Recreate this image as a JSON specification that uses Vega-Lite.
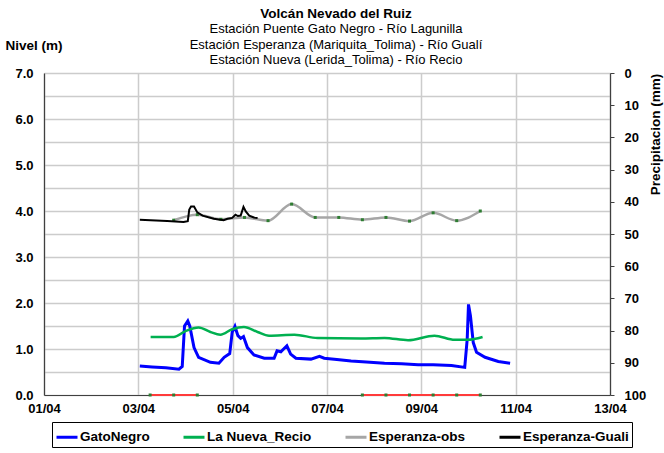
{
  "$schema": "https://vega.github.io/schema/vega-lite/v6.json",
  "width": 566,
  "height": 322,
  "autosize": {"type": "none"},
  "padding": {"left": 44, "top": 73, "right": 54, "bottom": 58},
  "background": "white",
  "config": {
    "font": "Liberation Sans",
    "view": {"stroke": null},
    "axis": {"labelFont": "Liberation Sans", "titleFont": "Liberation Sans", "labelColor": "#000000", "titleColor": "#000000"}
  },
  "title": {
    "text": "Volcán Nevado del Ruiz",
    "subtitle": ["Estación Puente Gato Negro - Río Lagunilla", "Estación Esperanza (Mariquita_Tolima) - Río Gualí", "Estación Nueva (Lerida_Tolima) - Río Recio"],
    "anchor": "middle",
    "dx": 9,
    "offset": -29,
    "font": "Liberation Sans",
    "fontSize": 13.5,
    "fontWeight": "bold",
    "color": "#000000",
    "subtitleFont": "Liberation Sans",
    "subtitleFontSize": 13,
    "subtitleColor": "#000000",
    "subtitlePadding": 3,
    "subtitleLineHeight": 15.5
  },
  "datasets": {
    "niveles": [
      {"serie": "GatoNegro", "fecha": "2023-04-03T00:45", "nivel": 0.63},
      {"serie": "GatoNegro", "fecha": "2023-04-03T07:00", "nivel": 0.61},
      {"serie": "GatoNegro", "fecha": "2023-04-03T14:00", "nivel": 0.59},
      {"serie": "GatoNegro", "fecha": "2023-04-03T20:40", "nivel": 0.56},
      {"serie": "GatoNegro", "fecha": "2023-04-03T22:20", "nivel": 0.62},
      {"serie": "GatoNegro", "fecha": "2023-04-03T23:30", "nivel": 1.50},
      {"serie": "GatoNegro", "fecha": "2023-04-04T01:10", "nivel": 1.61},
      {"serie": "GatoNegro", "fecha": "2023-04-04T02:10", "nivel": 1.50},
      {"serie": "GatoNegro", "fecha": "2023-04-04T04:20", "nivel": 1.03},
      {"serie": "GatoNegro", "fecha": "2023-04-04T06:40", "nivel": 0.82},
      {"serie": "GatoNegro", "fecha": "2023-04-04T12:40", "nivel": 0.71},
      {"serie": "GatoNegro", "fecha": "2023-04-04T17:00", "nivel": 0.69},
      {"serie": "GatoNegro", "fecha": "2023-04-04T19:40", "nivel": 0.82},
      {"serie": "GatoNegro", "fecha": "2023-04-04T22:30", "nivel": 0.90},
      {"serie": "GatoNegro", "fecha": "2023-04-04T23:45", "nivel": 1.36},
      {"serie": "GatoNegro", "fecha": "2023-04-05T01:10", "nivel": 1.49},
      {"serie": "GatoNegro", "fecha": "2023-04-05T02:40", "nivel": 1.29},
      {"serie": "GatoNegro", "fecha": "2023-04-05T04:05", "nivel": 1.23},
      {"serie": "GatoNegro", "fecha": "2023-04-05T05:30", "nivel": 1.27},
      {"serie": "GatoNegro", "fecha": "2023-04-05T07:30", "nivel": 1.03},
      {"serie": "GatoNegro", "fecha": "2023-04-05T10:50", "nivel": 0.87},
      {"serie": "GatoNegro", "fecha": "2023-04-05T16:05", "nivel": 0.80},
      {"serie": "GatoNegro", "fecha": "2023-04-05T21:05", "nivel": 0.80},
      {"serie": "GatoNegro", "fecha": "2023-04-05T22:35", "nivel": 0.96},
      {"serie": "GatoNegro", "fecha": "2023-04-06T00:30", "nivel": 0.94},
      {"serie": "GatoNegro", "fecha": "2023-04-06T03:35", "nivel": 1.07},
      {"serie": "GatoNegro", "fecha": "2023-04-06T05:30", "nivel": 0.89},
      {"serie": "GatoNegro", "fecha": "2023-04-06T08:10", "nivel": 0.80},
      {"serie": "GatoNegro", "fecha": "2023-04-06T15:50", "nivel": 0.78},
      {"serie": "GatoNegro", "fecha": "2023-04-06T20:10", "nivel": 0.84},
      {"serie": "GatoNegro", "fecha": "2023-04-06T22:35", "nivel": 0.80},
      {"serie": "GatoNegro", "fecha": "2023-04-07T05:00", "nivel": 0.77},
      {"serie": "GatoNegro", "fecha": "2023-04-07T12:15", "nivel": 0.74},
      {"serie": "GatoNegro", "fecha": "2023-04-07T20:00", "nivel": 0.72},
      {"serie": "GatoNegro", "fecha": "2023-04-08T05:15", "nivel": 0.69},
      {"serie": "GatoNegro", "fecha": "2023-04-08T14:00", "nivel": 0.68},
      {"serie": "GatoNegro", "fecha": "2023-04-08T22:20", "nivel": 0.66},
      {"serie": "GatoNegro", "fecha": "2023-04-09T06:00", "nivel": 0.66},
      {"serie": "GatoNegro", "fecha": "2023-04-09T15:20", "nivel": 0.64},
      {"serie": "GatoNegro", "fecha": "2023-04-09T22:05", "nivel": 0.60},
      {"serie": "GatoNegro", "fecha": "2023-04-09T23:20", "nivel": 1.21},
      {"serie": "GatoNegro", "fecha": "2023-04-10T00:00", "nivel": 1.97},
      {"serie": "GatoNegro", "fecha": "2023-04-10T01:00", "nivel": 1.72},
      {"serie": "GatoNegro", "fecha": "2023-04-10T02:25", "nivel": 1.14},
      {"serie": "GatoNegro", "fecha": "2023-04-10T04:05", "nivel": 0.93},
      {"serie": "GatoNegro", "fecha": "2023-04-10T08:25", "nivel": 0.82},
      {"serie": "GatoNegro", "fecha": "2023-04-10T15:10", "nivel": 0.73},
      {"serie": "GatoNegro", "fecha": "2023-04-10T21:10", "nivel": 0.69},
      {"serie": "La Nueva_Recio", "fecha": "2023-04-03T06:15", "nivel": 1.26},
      {"serie": "La Nueva_Recio", "fecha": "2023-04-03T18:00", "nivel": 1.26},
      {"serie": "La Nueva_Recio", "fecha": "2023-04-04T00:00", "nivel": 1.39},
      {"serie": "La Nueva_Recio", "fecha": "2023-04-04T06:40", "nivel": 1.47},
      {"serie": "La Nueva_Recio", "fecha": "2023-04-04T12:40", "nivel": 1.37},
      {"serie": "La Nueva_Recio", "fecha": "2023-04-04T17:45", "nivel": 1.31},
      {"serie": "La Nueva_Recio", "fecha": "2023-04-04T23:45", "nivel": 1.43},
      {"serie": "La Nueva_Recio", "fecha": "2023-04-05T05:45", "nivel": 1.48},
      {"serie": "La Nueva_Recio", "fecha": "2023-04-05T12:40", "nivel": 1.37},
      {"serie": "La Nueva_Recio", "fecha": "2023-04-05T18:30", "nivel": 1.29},
      {"serie": "La Nueva_Recio", "fecha": "2023-04-06T07:25", "nivel": 1.31},
      {"serie": "La Nueva_Recio", "fecha": "2023-04-06T19:10", "nivel": 1.24},
      {"serie": "La Nueva_Recio", "fecha": "2023-04-07T17:15", "nivel": 1.23},
      {"serie": "La Nueva_Recio", "fecha": "2023-04-08T05:15", "nivel": 1.24},
      {"serie": "La Nueva_Recio", "fecha": "2023-04-08T17:15", "nivel": 1.19},
      {"serie": "La Nueva_Recio", "fecha": "2023-04-09T06:40", "nivel": 1.29},
      {"serie": "La Nueva_Recio", "fecha": "2023-04-09T17:00", "nivel": 1.20},
      {"serie": "La Nueva_Recio", "fecha": "2023-04-09T23:45", "nivel": 1.20},
      {"serie": "La Nueva_Recio", "fecha": "2023-04-10T07:10", "nivel": 1.26},
      {"serie": "Esperanza-obs", "fecha": "2023-04-03T18:00", "nivel": 3.80},
      {"serie": "Esperanza-obs", "fecha": "2023-04-04T06:00", "nivel": 3.92},
      {"serie": "Esperanza-obs", "fecha": "2023-04-04T18:00", "nivel": 3.82},
      {"serie": "Esperanza-obs", "fecha": "2023-04-05T06:00", "nivel": 3.86},
      {"serie": "Esperanza-obs", "fecha": "2023-04-05T18:00", "nivel": 3.79},
      {"serie": "Esperanza-obs", "fecha": "2023-04-06T06:00", "nivel": 4.15},
      {"serie": "Esperanza-obs", "fecha": "2023-04-06T18:00", "nivel": 3.86},
      {"serie": "Esperanza-obs", "fecha": "2023-04-07T06:00", "nivel": 3.86},
      {"serie": "Esperanza-obs", "fecha": "2023-04-07T18:00", "nivel": 3.81},
      {"serie": "Esperanza-obs", "fecha": "2023-04-08T06:00", "nivel": 3.86},
      {"serie": "Esperanza-obs", "fecha": "2023-04-08T18:00", "nivel": 3.78},
      {"serie": "Esperanza-obs", "fecha": "2023-04-09T06:00", "nivel": 3.96},
      {"serie": "Esperanza-obs", "fecha": "2023-04-09T18:00", "nivel": 3.79},
      {"serie": "Esperanza-obs", "fecha": "2023-04-10T06:00", "nivel": 4.00},
      {"serie": "Esperanza-Guali", "fecha": "2023-04-03T00:45", "nivel": 3.81},
      {"serie": "Esperanza-Guali", "fecha": "2023-04-03T06:15", "nivel": 3.80},
      {"serie": "Esperanza-Guali", "fecha": "2023-04-03T14:40", "nivel": 3.78},
      {"serie": "Esperanza-Guali", "fecha": "2023-04-03T23:00", "nivel": 3.76},
      {"serie": "Esperanza-Guali", "fecha": "2023-04-04T01:10", "nivel": 3.78},
      {"serie": "Esperanza-Guali", "fecha": "2023-04-04T01:55", "nivel": 4.03},
      {"serie": "Esperanza-Guali", "fecha": "2023-04-04T02:50", "nivel": 4.10},
      {"serie": "Esperanza-Guali", "fecha": "2023-04-04T04:20", "nivel": 4.10},
      {"serie": "Esperanza-Guali", "fecha": "2023-04-04T06:00", "nivel": 3.97},
      {"serie": "Esperanza-Guali", "fecha": "2023-04-04T08:40", "nivel": 3.90},
      {"serie": "Esperanza-Guali", "fecha": "2023-04-04T14:25", "nivel": 3.83},
      {"serie": "Esperanza-Guali", "fecha": "2023-04-04T19:25", "nivel": 3.80},
      {"serie": "Esperanza-Guali", "fecha": "2023-04-04T21:20", "nivel": 3.83},
      {"serie": "Esperanza-Guali", "fecha": "2023-04-04T23:45", "nivel": 3.85},
      {"serie": "Esperanza-Guali", "fecha": "2023-04-05T01:25", "nivel": 3.92},
      {"serie": "Esperanza-Guali", "fecha": "2023-04-05T02:40", "nivel": 3.89},
      {"serie": "Esperanza-Guali", "fecha": "2023-04-05T04:05", "nivel": 3.90},
      {"serie": "Esperanza-Guali", "fecha": "2023-04-05T05:30", "nivel": 4.09},
      {"serie": "Esperanza-Guali", "fecha": "2023-04-05T06:40", "nivel": 3.99},
      {"serie": "Esperanza-Guali", "fecha": "2023-04-05T08:25", "nivel": 3.90},
      {"serie": "Esperanza-Guali", "fecha": "2023-04-05T10:50", "nivel": 3.86},
      {"serie": "Esperanza-Guali", "fecha": "2023-04-05T12:40", "nivel": 3.85}
    ],
    "lluvia": [
      {"tramo": "A", "fecha": "2023-04-03T06:00", "nivel": 0},
      {"tramo": "A", "fecha": "2023-04-03T18:00", "nivel": 0},
      {"tramo": "A", "fecha": "2023-04-04T06:00", "nivel": 0},
      {"tramo": "B", "fecha": "2023-04-07T18:00", "nivel": 0},
      {"tramo": "B", "fecha": "2023-04-08T06:00", "nivel": 0},
      {"tramo": "B", "fecha": "2023-04-08T18:00", "nivel": 0},
      {"tramo": "B", "fecha": "2023-04-09T06:00", "nivel": 0},
      {"tramo": "B", "fecha": "2023-04-09T18:00", "nivel": 0},
      {"tramo": "B", "fecha": "2023-04-10T06:00", "nivel": 0}
    ]
  },
  "encoding": {
    "x": {
      "field": "fecha",
      "type": "temporal",
      "scale": {"domain": [{"year": 2023, "month": 4, "date": 1}, {"year": 2023, "month": 4, "date": 13}]},
      "axis": {
        "title": null,
        "format": "%d/%m",
        "values": [
          {"year": 2023, "month": 4, "date": 1},
          {"year": 2023, "month": 4, "date": 3},
          {"year": 2023, "month": 4, "date": 5},
          {"year": 2023, "month": 4, "date": 7},
          {"year": 2023, "month": 4, "date": 9},
          {"year": 2023, "month": 4, "date": 11},
          {"year": 2023, "month": 4, "date": 13}
        ],
        "tickSize": 0,
        "labelPadding": 7,
        "labelFontSize": 13,
        "labelFontWeight": "bold",
        "labelFlush": false,
        "labelOverlap": false,
        "grid": true,
        "gridColor": "#cccccc",
        "gridWidth": 1.5,
        "domainColor": "#404040",
        "domainWidth": 1.2
      }
    }
  },
  "layer": [
    {
      "encoding": {
        "y": {
          "field": "nivel",
          "type": "quantitative",
          "scale": {"domain": [0, 7], "nice": false, "zero": false},
          "axis": {
            "orient": "left",
            "title": "Nivel (m)",
            "titleAngle": 0,
            "titleAlign": "left",
            "titleBaseline": "middle",
            "titleX": -39,
            "titleY": -28,
            "titleFontSize": 13.5,
            "titleFontWeight": "bold",
            "values": [0, 0.5, 1, 1.5, 2, 2.5, 3, 3.5, 4, 4.5, 5, 5.5, 6, 6.5, 7],
            "labelExpr": "datum.value % 1 === 0 ? format(datum.value, '.1f') : ''",
            "tickSize": 0,
            "labelPadding": 11,
            "labelFontSize": 13,
            "labelFontWeight": "bold",
            "grid": true,
            "gridColor": "#cccccc",
            "gridWidth": 1.5,
            "domainColor": "#404040",
            "domainWidth": 1.2
          }
        },
        "color": {
          "field": "serie",
          "type": "nominal",
          "scale": {
            "domain": ["GatoNegro", "La Nueva_Recio", "Esperanza-obs", "Esperanza-Guali"],
            "range": ["#0000ff", "#00b050", "#a6a6a6", "#000000"]
          },
          "legend": {
            "title": null,
            "orient": "none",
            "legendX": 8,
            "legendY": 349,
            "direction": "horizontal",
            "columns": 4,
            "symbolType": "stroke",
            "symbolSize": 441,
            "symbolStrokeWidth": 3,
            "labelFont": "Liberation Sans",
            "labelFontSize": 13.5,
            "labelFontWeight": "bold",
            "labelColor": "#000000",
            "labelOffset": 1,
            "columnPadding": 27,
            "padding": 3,
            "strokeColor": "#000000",
            "fillColor": "#ffffff"
          }
        }
      },
      "layer": [
        {
          "data": {"name": "niveles"},
          "transform": [{"filter": "datum.serie === 'GatoNegro'"}],
          "mark": {"type": "line", "strokeWidth": 3, "interpolate": "linear"},
          "encoding": {}
        },
        {
          "data": {"name": "niveles"},
          "transform": [{"filter": "datum.serie === 'La Nueva_Recio'"}],
          "mark": {"type": "line", "strokeWidth": 2.5, "interpolate": "monotone"},
          "encoding": {}
        },
        {
          "data": {"name": "niveles"},
          "transform": [{"filter": "datum.serie === 'Esperanza-obs'"}],
          "mark": {"type": "line", "strokeWidth": 2.5, "interpolate": "monotone"},
          "encoding": {}
        },
        {
          "data": {"name": "niveles"},
          "transform": [{"filter": "datum.serie === 'Esperanza-obs'"}],
          "mark": {"type": "square", "size": 9, "opacity": 1, "filled": true},
          "encoding": {"color": {"value": "#2e7d32"}}
        },
        {
          "data": {"name": "niveles"},
          "transform": [{"filter": "datum.serie === 'Esperanza-Guali'"}],
          "mark": {"type": "line", "strokeWidth": 2, "interpolate": "linear"},
          "encoding": {}
        },
        {
          "data": {"name": "lluvia"},
          "mark": {"type": "line", "strokeWidth": 2, "clip": false},
          "encoding": {"color": {"value": "#ff3b3b"}, "detail": {"field": "tramo", "type": "nominal"}}
        },
        {
          "data": {"name": "lluvia"},
          "mark": {"type": "square", "size": 9, "filled": true, "opacity": 1, "clip": false},
          "encoding": {"color": {"value": "#2e7d32"}}
        }
      ]
    },
    {
      "data": {"name": "lluvia"},
      "mark": {"type": "rule", "opacity": 0},
      "encoding": {
        "x": null,
        "y": {
          "datum": 0,
          "type": "quantitative",
          "scale": {"domain": [0, 100], "reverse": true, "nice": false, "zero": false},
          "axis": {
            "orient": "right",
            "title": "Precipitacion (mm)",
            "titleAngle": 270,
            "titleAlign": "center",
            "titleBaseline": "middle",
            "titleX": 45,
            "titleY": 61,
            "titleFontSize": 13.5,
            "titleFontWeight": "bold",
            "values": [0, 10, 20, 30, 40, 50, 60, 70, 80, 90, 100],
            "tickSize": 4,
            "tickColor": "#404040",
            "labelPadding": 10,
            "labelFontSize": 13,
            "labelFontWeight": "bold",
            "grid": false,
            "domainColor": "#404040",
            "domainWidth": 1.2
          }
        }
      }
    }
  ],
  "resolve": {"scale": {"y": "independent"}}
}
